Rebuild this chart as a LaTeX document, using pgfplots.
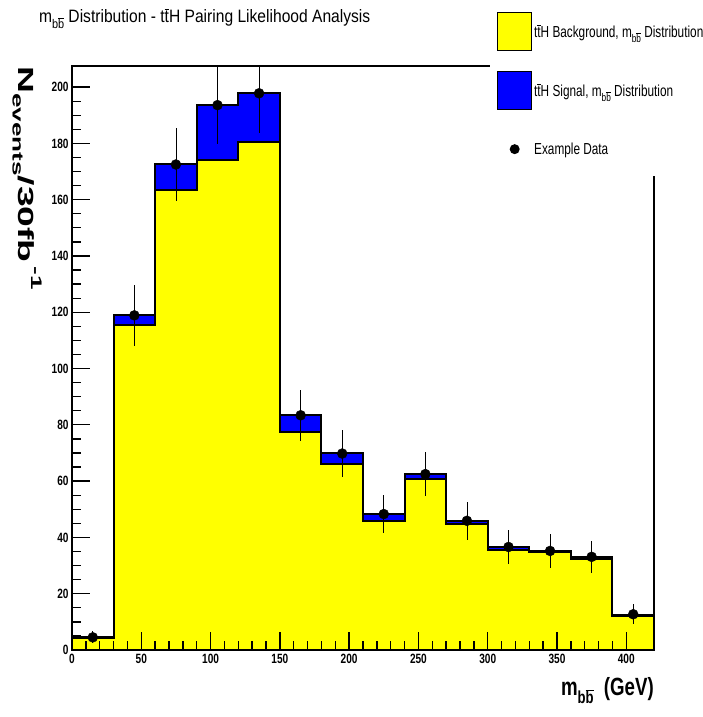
\documentclass[border=0pt]{standalone}
\usepackage{pgfplots}
\pgfplotsset{compat=1.18}
\usepackage{fontspec}
\setmainfont{Liberation Sans}
\newfontfamily\tickf[FakeStretch=0.75]{Liberation Sans}
\newfontfamily\titlef[FakeStretch=0.87]{Liberation Sans}
\newfontfamily\legf[FakeStretch=0.74]{Liberation Sans}
\newfontfamily\ylabf[FakeStretch=1.7]{Liberation Sans}
\newfontfamily\xlabf[FakeStretch=0.75]{Liberation Sans}
\newcommand\ob[1]{\ensuremath{\overline{\mbox{#1}}}}
\newcommand\bbsub{\raisebox{-0.6ex}{\scalebox{0.7}{b\ob{b}}}}
\definecolor{rootyellow}{RGB}{255,255,0}
\definecolor{rootblue}{RGB}{0,0,255}

\pgfplotstableread{
x tot bkg
0   4.6   4.2
30  119.2 115.3
60  172.7 163.5
90  193.7 174.1
120 197.9 180.5
150 83.6  77.3
180 70.0  66.1
210 48.4  45.7
240 62.5  60.9
270 45.9  44.6
300 36.5  35.6
330 35.3  34.8
360 33.0  32.5
390 12.6  12.1
420 12.6  12.1
}\histtab

\pgfplotstableread{
x   y     e
15  4.5   2.1
45  118.9 10.9
75  172.5 13.1
105 193.6 13.9
135 197.8 14.1
165 83.4  9.1
195 69.8  8.4
225 48.3  6.9
255 62.5  7.9
285 45.9  6.8
315 36.6  6.0
345 35.2  5.9
375 33.1  5.8
405 12.7  3.6
}\datatab

\begin{document}
\begin{tikzpicture}
\begin{axis}[
  name=ax,
  scale only axis,
  width=582bp, height=584bp,
  xmin=0, xmax=420, ymin=0, ymax=207.5,
  axis on top,
  tick pos=left,
  tick align=inside,
  xtick={0,50,...,400},
  ytick={0,20,...,200},
  minor x tick num=4,
  minor y tick num=3,
  major tick length=18bp,
  minor tick length=9bp,
  every tick/.style={black, line width=1.3bp},
  axis line style={line width=1.5bp},
  /pgf/number format/assume math mode=true,
  ticklabel style={font=\tickf\bfseries\fontsize{13.5}{14}\selectfont},
  xticklabel style={yshift=-1bp},
  title={m\bbsub{} Distribution - t\ob{t}H Pairing Likelihood Analysis},
  title style={at={(axis description cs:-0.057,1.071)}, anchor=west, inner sep=0pt,
    font=\titlef\fontsize{18}{20}\selectfont},
  xlabel={m\bbsub\ \ (GeV)},
  xlabel style={at={(axis description cs:1,-0.07)}, anchor=east, inner sep=0pt,
    font=\xlabf\bfseries\fontsize{25}{27}\selectfont},
  ylabel={N\raisebox{-0.5ex}{\scalebox{0.7}{events}}/30fb\,\raisebox{1.1ex}{\scalebox{0.7}{-1}}},
  ylabel style={rotate=180, at={(axis description cs:-0.077,1.0)}, anchor=west, inner sep=0pt,
    font=\ylabf\bfseries\fontsize{22}{24}\selectfont},
  legend style={at={(axis description cs:0.7182,1.1062)}, anchor=north west,
    draw=none, fill=white, inner xsep=7bp, inner ysep=8bp, row sep=20bp,
    font=\legf\fontsize{16}{18}\selectfont},
  legend cell align=left,
]
\addplot[const plot mark left, fill=rootblue, draw=black, line width=2bp, forget plot]
  table[x=x, y=tot]{\histtab} \closedcycle;
\addplot[const plot mark left, fill=rootyellow, draw=black, line width=2bp, forget plot]
  table[x=x, y=bkg]{\histtab} \closedcycle;
\addplot[only marks, mark=*, mark size=5bp, black, forget plot,
  error bars/.cd, y dir=both, y explicit, error mark=none,
  error bar style={line width=0.8bp, black}]
  table[x=x, y=y, y error=e]{\datatab};

\addlegendimage{legend image code/.code={\draw[fill=rootyellow, draw=black, line width=1pt] (0bp,-19bp) rectangle (34bp,19bp);}}
\addlegendentry{t\ob{t}H Background, m\bbsub{} Distribution}
\addlegendimage{legend image code/.code={\draw[fill=rootblue, draw=black, line width=1pt] (0bp,-19bp) rectangle (34bp,19bp);}}
\addlegendentry{t\ob{t}H Signal, m\bbsub{} Distribution}
\addlegendimage{legend image code/.code={\path[draw=none, fill=none] (0bp,-19bp) rectangle (34bp,19bp); \fill[black, draw=none] (17bp,0bp) circle (5bp);}}
\addlegendentry{Example Data}
\end{axis}
\pgfresetboundingbox
\path[use as bounding box] ([xshift=-72bp,yshift=-67bp]ax.south west) rectangle ([xshift=49bp,yshift=66bp]ax.north east);
\end{tikzpicture}
\end{document}
